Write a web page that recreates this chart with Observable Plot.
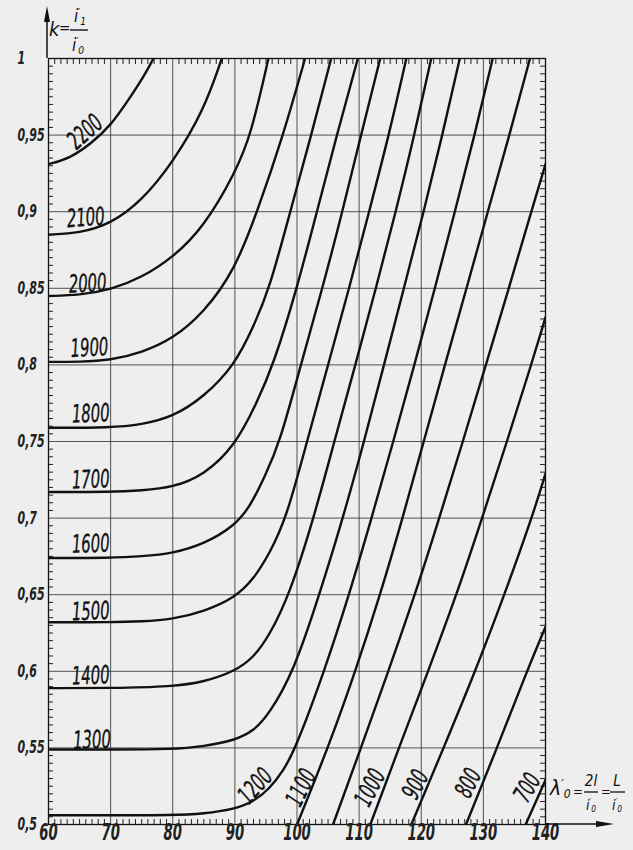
<!DOCTYPE html>
<html><head><meta charset="utf-8">
<script src="https://cdn.jsdelivr.net/npm/d3@7"></script>
<script src="https://cdn.jsdelivr.net/npm/@observablehq/plot@0.6"></script>
<style>
html,body{margin:0;padding:0;background:#eeeeee;}
#chart{width:633px;height:850px;}
</style></head><body><div id="chart"></div>
<script>
// ---- tick values ----
const xTicks = [60, 70, 80, 90, 100, 110, 120, 130, 140];
const yTicks = [0.5, 0.55, 0.6, 0.65, 0.7, 0.75, 0.8, 0.85, 0.9, 0.95, 1];
const yTickLabels = ["0,5", "0,55", "0,6", "0,65", "0,7", "0,75", "0,8", "0,85", "0,9", "0,95", "1"];

// ---- curves: [lambda'0, k] points ----
const c2200 = [[60,0.931],[63.5,0.935],[66.7,0.944],[70,0.956],[73.2,0.975],[75.3,0.988],[76.9,1.0]];
const c2100 = [[60,0.885],[65,0.886],[70,0.892],[75,0.907],[80,0.932],[85,0.966],[87.9,1.0]];
const c2000 = [[60,0.845],[65,0.8455],[70,0.849],[75,0.857],[80,0.870],[85,0.890],[90,0.925],[92.6,0.95],[95.4,1.0]];
const c1900 = [[60,0.802],[65,0.802],[70,0.803],[75,0.808],[80,0.817],[85,0.834],[90,0.862],[93.6,0.9],[97.8,0.95],[101.3,1.0]];
const c1800 = [[60,0.759],[70,0.759],[75,0.761],[80,0.766],[85,0.779],[90,0.80],[93,0.825],[95.6,0.85],[98.9,0.9],[102.3,0.95],[105.5,1.0]];
const c1700 = [[60,0.717],[70,0.717],[75,0.718],[80,0.720],[85,0.728],[90,0.747],[93.5,0.775],[96.2,0.8],[100.0,0.85],[103.2,0.9],[106.4,0.95],[109.8,1.0]];
const c1600 = [[60,0.674],[70,0.674],[75,0.675],[80,0.677],[85,0.683],[90,0.695],[92.5,0.708],[94.8,0.727],[97.3,0.75],[100.6,0.8],[104.1,0.85],[107.3,0.9],[110.3,0.95],[113.4,1.0]];
const c1500 = [[60,0.632],[70,0.632],[75,0.6325],[80,0.634],[85,0.639],[90,0.648],[93,0.66],[95.6,0.677],[98.3,0.7],[101.6,0.75],[105.0,0.8],[108.4,0.85],[111.6,0.9],[114.8,0.95],[117.6,1.0]];
const c1400 = [[60,0.589],[70,0.589],[80,0.590],[85,0.593],[90,0.600],[93,0.609],[95.5,0.623],[98.8,0.65],[102.7,0.7],[106.0,0.75],[109.4,0.8],[112.7,0.85],[115.9,0.9],[118.9,0.95],[121.6,1.0]];
const c1300 = [[60,0.549],[70,0.549],[80,0.549],[85,0.551],[90,0.555],[93,0.561],[95.5,0.572],[99.5,0.6],[103.6,0.65],[107.4,0.7],[110.8,0.75],[114.0,0.8],[117.2,0.85],[120.4,0.9],[123.4,0.95],[126.2,1.0]];
const c1200 = [[60,0.506],[70,0.506],[80,0.506],[85,0.507],[90,0.510],[93,0.515],[95.5,0.523],[97.8,0.535],[99.8,0.55],[104.4,0.6],[108.4,0.65],[112.0,0.7],[115.5,0.75],[118.9,0.8],[122.2,0.85],[125.4,0.9],[128.6,0.95],[131.5,1.0]];
const c1100 = [[100.0,0.5],[105.0,0.55],[109.4,0.6],[113.4,0.65],[117.0,0.7],[120.4,0.75],[123.8,0.8],[127.3,0.85],[130.7,0.9],[134.2,0.95],[137.5,1.0]];
const cUnlabeled = [[105.8,0.5],[110.3,0.55],[114.7,0.6],[119.0,0.65],[122.9,0.7],[126.7,0.75],[130.4,0.8],[134.1,0.85],[137.7,0.9],[140,0.931]];
const c1000 = [[111.8,0.5],[116.4,0.55],[121.1,0.6],[125.7,0.65],[129.8,0.7],[133.8,0.75],[137.7,0.8],[140,0.831]];
const c900 = [[118.4,0.5],[123.6,0.55],[128.7,0.6],[133.4,0.65],[137.8,0.7],[140,0.729]];
const c800 = [[127.2,0.5],[132.2,0.55],[137.0,0.6],[140,0.629]];
const c700 = [[136.8,0.5],[140,0.529]];

const curveIds = ["2200","2100","2000","1900","1800","1700","1600","1500","1400","1300","1200","1100","unlabeled","1000","900","800","700"];
const curvePoints = [c2200,c2100,c2000,c1900,c1800,c1700,c1600,c1500,c1400,c1300,c1200,c1100,cUnlabeled,c1000,c900,c800,c700];

// ---- curve labels (anchor in data units) ----
const labelTexts = ["2200","2100","2000","1900","1800","1700","1600","1500","1400","1300","1200","1100","1000","900","800","700"];
const labelX =     [65.9, 66.0, 66.3, 66.6, 66.8, 66.8, 66.8, 66.8, 66.8, 67.0, 93.3, 100.7, 111.8, 119.1, 127.6, 137.1];
const labelK =     [0.952,0.896,0.853,0.811,0.768,0.725,0.683,0.639,0.597,0.555,0.525,0.524,0.524,0.526,0.527,0.524];
const labelAngle = [-42, -4, -3, -3, -2, -2, -2, -2, -2, -2, -48, -63, -63, -63, -63, -60];

const lines = curveIds.flatMap((id, i) => curvePoints[i].map(([x, k]) => ({id, x, k})));
const labels = labelTexts.map((t, i) => ({t, x: labelX[i], k: labelK[i], a: labelAngle[i]}));

const FONT = "'DejaVu Sans Condensed','Liberation Sans Narrow',sans-serif";
const W = 633, H = 850, mL = 48, mR = 88, mT = 58, mB = 26;
const pxPerX = (W - mL - mR) / 80, pxPerK = (H - mT - mB) / 0.5;
const unitX = px => px / pxPerX, unitK = px => px / pxPerK;

const minorX = d3.range(61, 140).filter(d => d % 10 !== 0);
const minorK = d3.range(101, 200).map(d => d / 200).filter(d => Math.abs(d * 20 - Math.round(d * 20)) > 1e-6);
const gridX = xTicks.slice(1, -1);
const gridK = yTicks.slice(1, -1);

const chart = Plot.plot({
  width: W, height: H,
  marginLeft: mL, marginRight: mR, marginTop: mT, marginBottom: mB,
  x: {domain: [60, 140], axis: null},
  y: {domain: [0.5, 1], axis: null},
  style: {background: "#eeeeee", fontFamily: FONT, overflow: "visible"},
  marks: [
    Plot.ruleX(gridX, {x: d => d, stroke: "#2a2a2a", strokeWidth: 1, strokeOpacity: 0.8}),
    Plot.ruleY(gridK, {y: d => d, stroke: "#2a2a2a", strokeWidth: 1, strokeOpacity: 0.8}),
    Plot.ruleX(minorX, {x: d => d, y1: 0.5, y2: 0.5 + unitK(5), stroke: "#222", strokeWidth: 1}),
    Plot.ruleX(minorX, {x: d => d, y1: 1, y2: 1 - unitK(6), stroke: "#222", strokeWidth: 1}),
    Plot.ruleY(minorK, {y: d => d, x1: 60, x2: 60 + unitX(5), stroke: "#222", strokeWidth: 1}),
    Plot.ruleY(minorK, {y: d => d, x1: 140, x2: 140 - unitX(5), stroke: "#222", strokeWidth: 1}),
    Plot.frame({stroke: "#111", strokeWidth: 1.3}),
    Plot.line(lines, {x: "x", y: "k", z: "id", curve: "basis", stroke: "#111", strokeWidth: 2.4, clip: true}),
    Plot.text(labels, {x: "x", y: "k", text: "t", rotate: "a", fontSize: 25, fontStyle: "italic", fill: "#111", stroke: "#111", strokeWidth: 0.35}),
    Plot.text(yTicks, {y: d => d, text: (d, i) => yTickLabels[i], frameAnchor: "left", textAnchor: "start", dx: -31, fontSize: 17, fontStyle: "italic", fontWeight: "bold", fill: "#222"}),
    Plot.text(xTicks, {x: d => d, text: d => String(d), frameAnchor: "bottom", dy: 15, fontSize: 23, fontStyle: "italic", fontWeight: "bold", fill: "#222"})
  ]
});
document.getElementById("chart").appendChild(chart);

const svg = d3.select(chart);
// narrow the drafting-style digits (condense along the baseline)
const squeeze = [0.66, 0.72, 0.64];
svg.selectAll('g[aria-label="text"]').each(function(_, gi) {
  const s = squeeze[gi] ?? 1;
  d3.select(this).selectAll("text").each(function() {
    const tr = this.getAttribute("transform");
    if (tr) this.setAttribute("transform", tr + ` scale(${s},1)`);
    else {
      const x = +this.getAttribute("x") || 0, y = +this.getAttribute("y") || 0;
      this.removeAttribute("x"); this.removeAttribute("y");
      this.setAttribute("transform", `translate(${x},${y}) scale(${s},1)`);
    }
  });
});

// ---- axis arrows and titles ----
const sx = chart.scale("x"), sy = chart.scale("y");
const x0 = sx.apply(60), y0 = sy.apply(0.5), xr = sx.apply(140), yt = sy.apply(1);
const g = svg.append("g").attr("fill", "#111").attr("stroke", "none");
g.append("line").attr("x1", x0 - 1).attr("x2", x0 - 1).attr("y1", yt).attr("y2", 16).attr("stroke", "#111").attr("stroke-width", 1.5);
g.append("path").attr("d", `M${x0 - 1},6 L${x0 - 4},22 L${x0 + 2},22 Z`);
g.append("line").attr("x1", xr).attr("x2", 600).attr("y1", y0).attr("y2", y0).attr("stroke", "#111").attr("stroke-width", 1.5);
g.append("path").attr("d", `M614,${y0} L596,${y0 - 3} L596,${y0 + 3} Z`);

const t = svg.append("g").attr("font-family", FONT).attr("font-style", "italic").attr("fill", "#111").attr("text-anchor", "start");
const primed = (sel, base, sub, fs) => {
  sel.append("tspan").text(base);
  sel.append("tspan").attr("font-size", fs * 0.6).attr("dy", -fs * 0.35).text("′");
  sel.append("tspan").attr("font-size", fs * 0.6).attr("dy", fs * 0.5).text(sub);
};
// y title: k = i'1 / i'0
t.append("text").attr("x", 49).attr("y", 36).attr("font-size", 20).text("k");
t.append("text").attr("x", 59).attr("y", 33).attr("font-size", 15).text("=");
t.append("text").attr("x", 74).attr("y", 22).attr("font-size", 17).call(s => primed(s, "i", "1", 17));
t.append("line").attr("x1", 70).attr("x2", 88).attr("y1", 30).attr("y2", 30).attr("stroke", "#111").attr("stroke-width", 1.4);
t.append("text").attr("x", 72).attr("y", 51).attr("font-size", 17).call(s => primed(s, "i", "0", 17));
// x title: λ'0 = 2l / i'0 = L / i'0
t.append("text").attr("x", 550).attr("y", 795).attr("font-size", 21).call(s => primed(s, "λ", "0", 20));
t.append("text").attr("x", 573).attr("y", 796).attr("font-size", 13).text("=");
t.append("text").attr("x", 591).attr("y", 786).attr("font-size", 15).attr("text-anchor", "middle").text("2l");
t.append("line").attr("x1", 584).attr("x2", 598).attr("y1", 792).attr("y2", 792).attr("stroke", "#111").attr("stroke-width", 1.3);
t.append("text").attr("x", 586).attr("y", 810).attr("font-size", 14).call(s => primed(s, "i", "0", 14));
t.append("text").attr("x", 601).attr("y", 796).attr("font-size", 13).text("=");
t.append("text").attr("x", 617).attr("y", 786).attr("font-size", 15).attr("text-anchor", "middle").text("L");
t.append("line").attr("x1", 610).attr("x2", 625).attr("y1", 792).attr("y2", 792).attr("stroke", "#111").attr("stroke-width", 1.3);
t.append("text").attr("x", 612).attr("y", 810).attr("font-size", 14).call(s => primed(s, "i", "0", 14));
</script></body></html>
